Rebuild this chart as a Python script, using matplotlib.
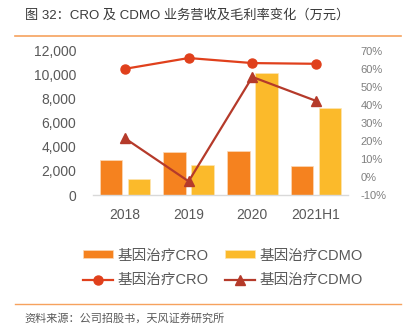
import matplotlib
matplotlib.use("Agg")
import matplotlib.pyplot as plt
from matplotlib.lines import Line2D
import numpy as np

plt.rcParams['font.family'] = ['Liberation Sans', 'Noto Sans CJK SC', 'DejaVu Sans']

# revenue (10k RMB) and gross margin (%)
periods = ["2018", "2019", "2020", "2021H1"]
cro_rev = [2900, 3600, 3680, 2390]
cdmo_rev = [1300, 2470, 10180, 7240]
cro_margin = [60.0, 66.0, 63.2, 62.8]
cdmo_margin = [21.5, -2.4, 55.5, 42.2]

title = "图 32：CRO 及 CDMO 业务营收及毛利率变化（万元）"
source = "资料来源：公司招股书，天风证券研究所"
lbl_cro = "基因治疗CRO"
lbl_cdmo = "基因治疗CDMO"

c_cro_bar = "#F5821F"
c_cdmo_bar = "#FBBA2B"
c_cro_line = "#E0401C"
c_cdmo_line = "#B53A2A"
grey = "#595959"

fig = plt.figure(figsize=(4.11, 3.30), dpi=100)
ax = fig.add_axes([0.2263, 0.409, 0.6204, 0.437])
ax2 = ax.twinx()

x = np.arange(len(periods))
w = 0.35
b1 = ax.bar(x - 0.22, cro_rev, w, color=c_cro_bar, edgecolor="#FBD9B8", linewidth=0.5, zorder=2)
b2 = ax.bar(x + 0.22, cdmo_rev, w, color=c_cdmo_bar, edgecolor="#FDE6B4", linewidth=0.5, zorder=2)

l1, = ax2.plot(x, cro_margin, color=c_cro_line, lw=1.6, marker="o", ms=6.5, zorder=3)
l2, = ax2.plot(x, cdmo_margin, color=c_cdmo_line, lw=1.6, marker="^", ms=7, zorder=3)

ax.set_xlim(-0.5, 3.5)
ax.set_ylim(0, 12000)
ax.set_yticks(np.arange(0, 12001, 2000))
ax.set_yticklabels([f"{v:,}" for v in range(0, 12001, 2000)])
ax.set_xticks(x)
ax.set_xticklabels(periods)
ax2.set_ylim(-10, 70)
ax2.set_yticks(np.arange(-10, 71, 10))
ax2.set_yticklabels([f"{v}%" for v in range(-10, 71, 10)])

for a in (ax, ax2):
    for s in a.spines.values():
        s.set_visible(False)
ax.spines['bottom'].set_visible(True)
ax.spines['bottom'].set_color("#D9D9D9")
ax.spines['bottom'].set_linewidth(1.0)

ax.tick_params(axis='y', length=0, pad=12, labelsize=10, labelcolor=grey)
ax.tick_params(axis='x', length=0, pad=9, labelsize=10, labelcolor=grey)
ax2.tick_params(axis='y', length=0, pad=9, labelsize=8, labelcolor="#7F7F7F")

# header / footer
fig.text(25 / 411, 1 - 15 / 330, title, fontsize=9.5, color="#3A3A3A", va="center", ha="left")
fig.add_artist(Line2D([15 / 411, 401 / 411], [1 - 36 / 330] * 2, color="#F6A25E", lw=1.2))
fig.add_artist(Line2D([15 / 411, 401 / 411], [1 - 304 / 330] * 2, color="#F6A25E", lw=1.0))
fig.text(24 / 411, 1 - 318 / 330, source, fontsize=8, color=grey, va="center", ha="left")

fig.legend([b1, l1, b2, l2], [lbl_cro, lbl_cro, lbl_cdmo, lbl_cdmo],
           ncol=2, loc="center", bbox_to_anchor=(0.543, 0.188), frameon=False,
           fontsize=10.5, labelcolor=grey, handlelength=2.05, handleheight=0.45,
           handletextpad=0.3, columnspacing=1.15, labelspacing=0.75)

fig.savefig("out.png", dpi=100)
